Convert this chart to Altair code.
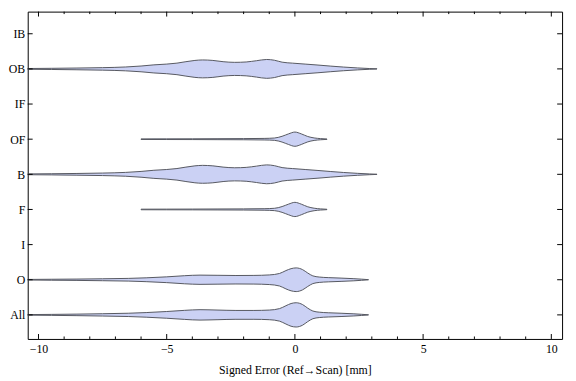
import altair as alt
import pandas as pd

# categories from bottom (y=1) to top (y=9)
categories = ["All", "O", "I", "F", "B", "OF", "IF", "OB", "IB"]

# violin profiles: x value and half-width (density, in reference pixels)
ob_x = [-10.45, -9.5, -8.5, -7.5, -6.6, -6.0, -5.5, -5.0, -4.6, -4.25, -3.9, -3.6, -3.2, -2.8,
        -2.35, -1.9, -1.5, -1.1, -0.8, -0.5, -0.1, 0.4, 0.9, 1.4, 1.9, 2.45, 2.9, 3.2]
ob_w = [0.4, 0.6, 0.9, 1.3, 2.0, 3.0, 4.2, 5.0, 6.0, 7.5, 8.8, 9.3, 8.8, 7.5,
        6.8, 7.2, 8.5, 9.8, 9.0, 7.0, 6.0, 5.0, 4.0, 2.9, 1.9, 1.0, 0.4, 0.1]

of_x = [-6.0, -5.0, -4.0, -3.0, -2.0, -1.2, -0.8, -0.5, -0.25, 0.0, 0.25, 0.5, 0.75, 1.0, 1.25]
of_w = [0.3, 0.35, 0.4, 0.5, 0.6, 0.8, 1.2, 3.0, 5.5, 7.4, 5.5, 2.8, 1.3, 0.6, 0.2]

o_x = [-10.45, -9.5, -8.5, -7.5, -6.5, -5.8, -5.0, -4.3, -3.7, -3.0, -2.3, -1.6, -1.0, -0.6,
       -0.35, -0.15, 0.05, 0.3, 0.5, 0.7, 0.95, 1.3, 1.8, 2.3, 2.6, 2.87]
o_w = [0.3, 0.5, 0.7, 1.0, 1.4, 2.0, 3.0, 4.2, 4.8, 4.6, 4.4, 4.5, 5.0, 6.5,
       9.5, 11.5, 12.3, 10.5, 7.0, 4.0, 2.8, 2.2, 1.7, 1.1, 0.6, 0.1]

all_x = [-10.45, -9.5, -8.5, -7.5, -6.5, -5.8, -5.0, -4.3, -3.7, -3.0, -2.3, -1.6, -1.0, -0.6,
         -0.35, -0.15, 0.05, 0.3, 0.5, 0.7, 0.95, 1.3, 1.8, 2.3, 2.6, 2.87]
all_w = [0.3, 0.5, 0.8, 1.2, 1.7, 2.4, 3.5, 4.7, 5.4, 5.0, 4.6, 4.6, 5.0, 6.5,
         9.5, 11.8, 12.6, 10.7, 7.0, 4.0, 2.8, 2.2, 1.7, 1.1, 0.6, 0.1]

profiles = {"OB": (ob_x, ob_w), "B": (ob_x, ob_w),
            "OF": (of_x, of_w), "F": (of_x, of_w),
            "O": (o_x, o_w), "All": (all_x, all_w)}
density_scale = 36.5  # reference px per category step

x_major = [-10, -5, 0, 5, 10]
x_minor = [i for i in range(-10, 11) if i % 5 != 0]
x_domain = [-10.42, 10.42]
y_domain = [0.315, 9.63]

rows = []
for pos, cat in enumerate(categories, start=1):
    if cat in profiles:
        xs, ws = profiles[cat]
        for xv, wv in zip(xs, ws):
            rows.append({"cat": cat, "x": xv,
                         "lo": pos - wv / density_scale, "hi": pos + wv / density_scale})
df = pd.DataFrame(rows)

W, H = 542, 332
FONT = "Liberation Serif"

xscale = alt.Scale(domain=x_domain, nice=False, zero=False)
yscale = alt.Scale(domain=y_domain, nice=False, zero=False)
xaxis = alt.Axis(values=x_major, title="Signed Error (Ref\u2192Scan) [mm]",
                 labelPadding=5, titlePadding=10)
label_expr = "['', " + ", ".join("'%s'" % c for c in categories) + "][datum.value]"
yaxis = alt.Axis(values=list(range(1, 10)), labelExpr=label_expr, title=None, labelPadding=3)

violins = alt.Chart(df).mark_area(
    fill="#cbd1f4", stroke="#55575f", strokeWidth=1, interpolate="monotone", clip=True
).encode(
    x=alt.X("x:Q", scale=xscale, axis=xaxis),
    y=alt.Y("hi:Q", scale=yscale, axis=yaxis),
    y2="lo:Q",
    detail="cat:N",
)

maj = pd.DataFrame({"t": x_major})
mnr = pd.DataFrame({"t": x_minor})
cats = pd.DataFrame({"c": list(range(1, 10))})

def xticks(data, y0, y1):
    return alt.Chart(data).mark_rule(color="black", strokeWidth=1).encode(
        x=alt.X("t:Q", scale=xscale, axis=xaxis), y=alt.value(y0), y2=alt.value(y1))

def yticks(x0, x1):
    return alt.Chart(cats).mark_rule(color="black", strokeWidth=1).encode(
        y=alt.Y("c:Q", scale=yscale, axis=yaxis), x=alt.value(x0), x2=alt.value(x1))

layers = [
    violins,
    xticks(maj, H, H - 5), xticks(mnr, H, H - 2.5),
    xticks(maj, 0, 5), xticks(mnr, 0, 2.5),
    yticks(0, 5), yticks(W, W - 5),
]

chart = alt.layer(*layers).properties(
    width=W, height=H,
    padding={"left": 20, "top": 1, "right": 6, "bottom": 42},
    autosize=alt.AutoSizeParams(type="none"),
).configure_view(
    stroke="black", strokeWidth=1
).configure_axis(
    labelFont=FONT, labelFontSize=12, labelColor="black",
    titleFont=FONT, titleFontSize=12, titleFontWeight="normal", titleColor="black",
    domain=False, ticks=False, tickSize=0, grid=False,
)

chart.save("out.html", embed_options={"renderer": "svg", "actions": False})
